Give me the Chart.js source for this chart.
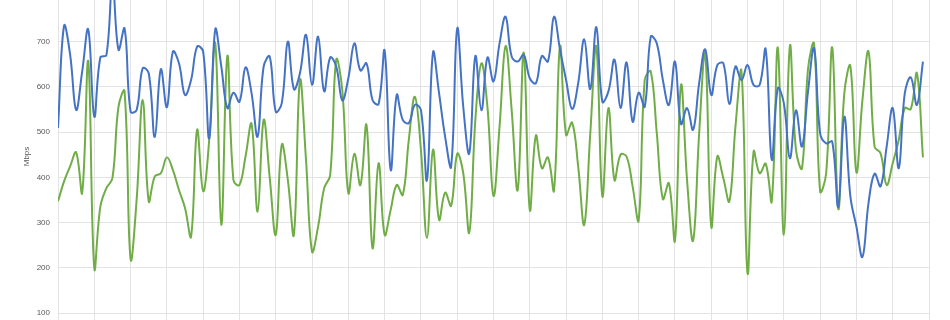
<!DOCTYPE html>
<html>
<head>
<meta charset="utf-8">
<script src="https://cdn.jsdelivr.net/npm/chart.js@4/dist/chart.umd.min.js"></script>
<style>
  html, body { margin: 0; padding: 0; background: #fff; }
  #wrap { width: 950px; height: 320px; }
</style>
</head>
<body>
<div id="wrap"><canvas id="speedChart"></canvas></div>
<script>
// hourly samples, 144 of them (6 days)
const hours = Array.from({ length: 144 }, (_, i) => i);

const downloadMbps = [
  509, 735, 672, 549, 634, 727, 534, 665, 670, 830, 682, 729,
  545, 549, 641, 630, 489, 639, 555, 678, 652, 582, 615, 689,
  678, 486, 727, 645, 553, 587, 567, 643, 586, 490, 645, 667,
  545, 564, 700, 595, 630, 715, 604, 711, 590, 665, 645, 570,
  619, 696, 636, 652, 571, 562, 680, 416, 582, 527, 520, 560,
  549, 394, 676, 586, 490, 424, 729, 556, 453, 668, 548, 665,
  612, 696, 755, 667, 656, 671, 619, 608, 668, 656, 755, 682,
  615, 551, 608, 705, 595, 732, 567, 590, 660, 553, 654, 523,
  587, 556, 711, 696, 615, 560, 656, 518, 553, 505, 608, 683,
  582, 648, 652, 562, 645, 615, 648, 604, 604, 683, 439, 597,
  564, 442, 548, 468, 590, 685, 497, 475, 479, 335, 534, 358,
  291, 224, 343, 408, 380, 468, 553, 420, 586, 621, 560, 656
];

const uploadMbps = [
  347, 391, 424, 455, 366, 656, 199, 335, 376, 398, 556, 590,
  219, 350, 571, 347, 402, 409, 444, 416, 372, 332, 269, 505,
  369, 483, 696, 295, 668, 394, 383, 446, 518, 324, 527, 400,
  273, 472, 394, 273, 615, 439, 236, 291, 376, 405, 660, 593,
  365, 452, 383, 516, 243, 431, 273, 328, 383, 361, 483, 578,
  461, 266, 461, 306, 366, 337, 452, 409, 278, 527, 652, 555,
  359, 512, 690, 549, 372, 676, 328, 492, 420, 444, 371, 690,
  494, 521, 424, 295, 497, 689, 358, 553, 394, 450, 446, 380,
  305, 615, 634, 497, 352, 387, 260, 604, 394, 260, 497, 673,
  291, 446, 398, 347, 512, 634, 188, 457, 409, 430, 347, 687,
  273, 690, 461, 420, 640, 695, 369, 409, 687, 330, 586, 646,
  411, 571, 678, 468, 453, 383, 431, 483, 553, 551, 630, 444
];

const yTicks = [100, 200, 300, 400, 500, 600, 700];

const gridColor = '#e3e3e3';
const labelColor = '#595959';
const font = { family: '"Liberation Sans", Arial, sans-serif', size: 8 };

function toPoints(values) {
  return values.map((v, i) => ({ x: hours[i], y: v }));
}

// no extra room around the plot for half tick labels
function noPadding(s) {
  s.paddingTop = 0;
  s.paddingBottom = 0;
  s.paddingLeft = 0;
  s.paddingRight = 0;
}

const ctx = document.getElementById('speedChart').getContext('2d');
new Chart(ctx, {
  type: 'line',
  data: {
    datasets: [
      {
        label: 'Download',
        data: toPoints(downloadMbps),
        borderColor: '#4472C4',
        borderWidth: 2,
        pointRadius: 0,
        tension: 0.4,
        fill: false
      },
      {
        label: 'Upload',
        data: toPoints(uploadMbps),
        borderColor: '#70AD47',
        borderWidth: 2,
        pointRadius: 0,
        tension: 0.4,
        fill: false
      }
    ]
  },
  options: {
    responsive: true,
    maintainAspectRatio: false,
    animation: false,
    layout: { padding: { left: 0, right: 21, top: 0, bottom: 0 } },
    plugins: {
      legend: { display: false },
      tooltip: { enabled: false }
    },
    scales: {
      x: {
        type: 'linear',
        min: 0,
        max: 144,
        ticks: { display: false, stepSize: 6 },
        grid: { color: gridColor, drawTicks: true, tickLength: 7 },
        border: { color: gridColor },
        afterFit: s => { s.height = 7; noPadding(s); }
      },
      y: {
        min: 100,
        max: 792,
        afterBuildTicks: axis => {
          axis.ticks = yTicks.map(v => ({ value: v }));
        },
        ticks: { color: labelColor, font: font, padding: 8 },
        grid: { color: gridColor, drawTicks: false },
        border: { color: gridColor },
        title: {
          display: true,
          text: 'Mbps',
          color: labelColor,
          font: font,
          padding: { top: 22, bottom: 0 }
        },
        afterFit: s => { s.width = 58; noPadding(s); }
      }
    }
  }
});
</script>
</body>
</html>
